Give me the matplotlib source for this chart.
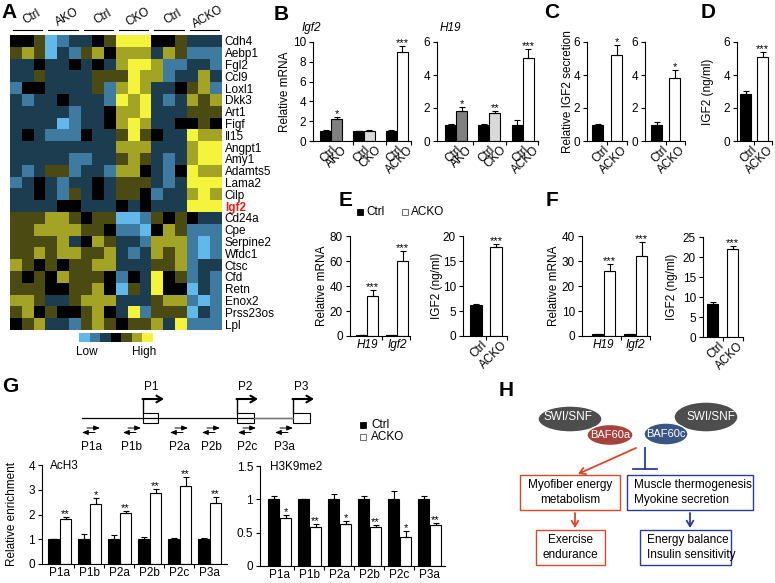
import numpy as np
import matplotlib
matplotlib.use("Agg")
from matplotlib import pyplot as plt
from matplotlib.colors import LinearSegmentedColormap
from matplotlib.patches import Rectangle, Ellipse

plt.rcParams['font.family'] = ['Liberation Sans', 'DejaVu Sans']
plt.rcParams['font.size'] = 8
plt.rcParams['axes.linewidth'] = 0.8

W, H = 775, 583

# ---------------- data ----------------
# A: heatmap (z-score levels, rows = genes, cols = 6 groups x 3 mice)
genes = ['Cdh4', 'Aebp1', 'Fgl2', 'Ccl9', 'Loxl1', 'Dkk3', 'Art1', 'Figf', 'Il15',
         'Angpt1', 'Amy1', 'Adamts5', 'Lama2', 'Cilp', 'Igf2', 'Cd24a', 'Cpe',
         'Serpine2', 'Wfdc1', 'Ctsc', 'Cfd', 'Retn', 'Enox2', 'Prss23os', 'Lpl']
heat_groups = ['Ctrl', 'AKO', 'Ctrl', 'CKO', 'Ctrl', 'ACKO']
heat = np.array([
    [0, 0, 1, -3, -2, -1, -1, 0, 1, 3, 3, 3, 0, 0, 1, -1, -1, -1],
    [1, 2, 1, -3, -1, -2, 1, 2, 0, 2, 2, 2, -1, 2, 1, -2, -2, -2],
    [-1, -1, 0, -1, -1, 0, -1, 0, -1, 2, 3, 3, 2, -2, -2, -1, -1, -2],
    [-1, -1, 1, -1, -1, -1, -1, 1, 1, 1, 3, 2, 2, -2, -1, -1, 2, -1],
    [-2, 0, 0, -1, -1, -1, -1, 1, -2, 2, 3, 2, -1, -1, 0, 1, 2, -2],
    [-1, -2, -1, -1, 0, -1, -1, -1, -2, 3, 2, 3, -1, -2, -1, 2, 1, 2],
    [-1, -1, -1, -1, -1, -2, -1, -1, 0, 2, 2, 3, -1, -1, -1, 1, 1, 1],
    [-1, -1, -1, -1, -3, -2, -1, -1, 0, 2, 3, 2, -1, -1, 0, 0, 1, 0],
    [-1, 0, -1, -2, -2, -2, 0, -1, -1, 1, 3, 1, 0, -1, -1, 3, 2, 2],
    [-1, -1, -1, -1, -1, -1, -1, -1, -1, 2, 2, 2, -1, -1, -1, 2, 3, 3],
    [-1, -1, -1, -1, -1, -2, -2, -1, -1, 1, 2, 1, -1, -2, -1, 2, 3, 3],
    [-1, -2, -1, 1, 1, -2, -1, -1, -2, 2, 2, 0, -1, -2, 0, 3, 2, 2],
    [-2, -1, 0, -1, -2, -1, -1, 0, -1, 1, 1, 1, -1, -2, -1, 3, 3, 3],
    [-1, -1, 0, -1, -2, 1, -1, 0, -1, 1, 1, 0, -2, -1, -1, 2, 3, 2],
    [-1, -1, -1, -1, 0, 0, -1, -1, -1, 0, -1, 0, -1, -1, -1, 3, 3, 3],
    [1, 1, 1, 2, 2, 1, 0, 1, 1, -3, -3, -2, 1, 0, 1, 0, -1, -1],
    [1, 1, 2, 2, 2, 2, 1, 1, 0, -2, -2, -3, 0, 2, 1, -2, -2, -2],
    [1, 1, 1, 1, 2, -1, 0, 2, 1, -1, -1, -2, 2, 2, 2, -2, -3, -2],
    [1, 1, 2, 1, 2, 2, 1, 1, 2, -1, -2, -1, 2, 1, 2, -2, -3, -2],
    [2, 1, 0, 1, 0, 1, 1, 2, 2, -1, -1, -1, 1, 1, 2, -2, -1, -1],
    [1, 0, 1, 0, 2, 1, 1, 1, 0, -2, 0, -1, 3, 0, 1, -2, -1, -2],
    [1, 1, 1, 0, 0, 1, 1, 2, 0, -3, 1, -1, 3, 0, 0, -3, -1, -2],
    [2, 2, 1, -1, -1, 1, 2, 2, 2, -1, -1, -1, 1, 2, 2, -2, -3, -2],
    [1, 2, 0, 1, 0, 0, 1, 2, 0, -1, 3, -2, 1, 1, 1, -3, -1, -2],
    [0, 1, 2, -1, -1, -2, 1, 2, 1, 0, 1, 1, 2, -1, 3, -2, -2, -2],
])
heat_colors = ['#62b8e8', '#3f7aa0', '#1d3c50', '#000000', '#4a4a12', '#a3a326', '#f4f43c']

# B: relative mRNA
b_labels = ['Ctrl', 'AKO', 'Ctrl', 'CKO', 'Ctrl', 'ACKO']
b_ko_colors = ['#808080', '#d9d9d9', 'white']
igf2_ctrl = [1.0, 1.0, 1.0]
igf2_ctrl_err = [0.1, 0.05, 0.08]
igf2_ko = [2.2, 1.05, 9.0]
igf2_ko_err = [0.2, 0.06, 0.6]
igf2_stars = ['*', '', '***']
h19_ctrl = [1.0, 1.0, 1.0]
h19_ctrl_err = [0.06, 0.05, 0.25]
h19_ko = [1.8, 1.7, 5.05]
h19_ko_err = [0.25, 0.12, 0.5]
h19_stars = ['*', '**', '***']

# C: relative IGF2 secretion
c1_ctrl, c1_ctrl_err, c1_ko, c1_ko_err = [1.0], [0.05], [5.2], [0.6]
c2_ctrl, c2_ctrl_err, c2_ko, c2_ko_err = [1.0], [0.15], [3.8], [0.5]

# D: serum IGF2
d_ctrl, d_ctrl_err, d_ko, d_ko_err = [2.85], [0.2], [5.1], [0.3]

# E / F
ef_genes = ['H19', 'Igf2']
e_ctrl, e_ctrl_err, e_ko, e_ko_err = [0.8, 0.8], [0.1, 0.1], [32, 60], [4.5, 8]
e_igf_ctrl, e_igf_ctrl_err, e_igf_ko, e_igf_ko_err = [6.3], [0.2], [17.9], [0.5]
f_ctrl, f_ctrl_err, f_ko, f_ko_err = [0.8, 0.8], [0.1, 0.1], [26, 32], [2.8, 5.6]
f_igf_ctrl, f_igf_ctrl_err, f_igf_ko, f_igf_ko_err = [8.3], [0.5], [22], [0.7]

# G: ChIP
primers = ['P1a', 'P1b', 'P2a', 'P2b', 'P2c', 'P3a']
ach3_ctrl = [1.0, 1.0, 1.0, 1.0, 1.0, 1.0]
ach3_ctrl_err = [0.02, 0.2, 0.18, 0.1, 0.06, 0.06]
ach3_ko = [1.82, 2.43, 2.08, 2.85, 3.17, 2.45]
ach3_ko_err = [0.08, 0.25, 0.07, 0.18, 0.35, 0.25]
ach3_stars = ['**', '*', '**', '**', '**', '**']
k9_ctrl = [1.0, 1.0, 1.0, 1.0, 1.0, 1.0]
k9_ctrl_err = [0.05, 0.01, 0.08, 0.05, 0.12, 0.05]
k9_ko = [0.72, 0.58, 0.63, 0.59, 0.44, 0.62]
k9_ko_err = [0.04, 0.05, 0.05, 0.03, 0.08, 0.02]
k9_stars = ['*', '**', '*', '**', '*', '**']

fig = plt.figure(figsize=(7.75, 5.83), dpi=100)


def px_axes(l, t, r, b):
    return fig.add_axes([l / W, 1 - b / H, (r - l) / W, (b - t) / H])


ek = dict(elinewidth=0.8, capthick=0.8, ecolor='black')


def bar_axes(box, ymax, yticks, ctrl, ctrl_err, ko, ko_err, stars, left,
             spacing=30, gap=0, bw=11, ko_color='white', ylabel=None, ylabel_x=None,
             yticklabels=None):
    l, t, r, b = box
    ax = px_axes(l, t, r, b)
    n = len(ctrl)
    xc = left + np.arange(n) * spacing + bw / 2
    xk = xc + bw + gap
    ax.bar(xc, ctrl, bw, color='black', edgecolor='black', linewidth=0.8,
           yerr=[np.zeros(n), ctrl_err], capsize=2, error_kw=ek)
    ax.bar(xk, ko, bw, color=ko_color, edgecolor='black', linewidth=0.8,
           yerr=[np.zeros(n), ko_err], capsize=2, error_kw=ek)
    for x, v, e, s in zip(xk, ko, ko_err, stars):
        if s:
            ax.annotate(s, (x, v + e), xytext=(0, -1.5), textcoords='offset points',
                        ha='center', va='bottom', fontsize=8, annotation_clip=False)
    ax.set_xlim(0, r - l)
    ax.set_ylim(0, ymax)
    ax.set_yticks(yticks)
    if yticklabels is not None:
        ax.set_yticklabels(yticklabels)
    ax.spines[['top', 'right']].set_visible(False)
    ax.tick_params(axis='y', length=3, width=0.8, pad=2, labelsize=8.5)
    ax.tick_params(axis='x', which='major', length=0, pad=2, labelsize=8.5)
    ax.tick_params(axis='x', which='minor', length=3, width=0.8)
    if ylabel:
        ax.set_ylabel(ylabel, fontsize=8.5)
        ax.yaxis.set_label_coords((ylabel_x - l) / (r - l), 0.5)
    return ax, xc, xk


def rotated_labels(ax, pos, labels):
    ax.set_xticks(pos)
    ax.set_xticklabels(labels, rotation=45, ha='right', va='top', rotation_mode='anchor')


# ---------------- A ----------------
axA = px_axes(10, 35, 222, 330)
cmap = LinearSegmentedColormap.from_list('lh', heat_colors)
axA.imshow(heat, cmap=cmap, vmin=-3, vmax=3, aspect='auto', interpolation='nearest')
axA.set_xticks([])
axA.yaxis.tick_right()
axA.set_yticks(range(len(genes)))
axA.set_yticklabels(genes, fontsize=8.5)
axA.tick_params(axis='y', length=0, pad=2)
for lab in axA.get_yticklabels():
    if lab.get_text() == 'Igf2':
        lab.set_color('#e0201b')
        lab.set_fontweight('bold')
for s in axA.spines.values():
    s.set_visible(False)

axCB = px_axes(79, 333, 153, 342)
axCB.imshow(np.arange(-3, 4)[None, :], cmap=cmap, vmin=-3, vmax=3, aspect='auto')
axCB.axis('off')

# ---------------- B ----------------
axB1, xc, xk = bar_axes((313, 42, 411, 141), 10, [0, 2, 4, 6, 8, 10], igf2_ctrl, igf2_ctrl_err,
                        igf2_ko, igf2_ko_err, igf2_stars, left=7, spacing=33,
                        ko_color=b_ko_colors, ylabel='Relative mRNA', ylabel_x=291)
rotated_labels(axB1, np.ravel(np.column_stack([xc, xk])) + 5, b_labels)
axB1.set_xticks([40, 73, 98], minor=True)

axB2, xc, xk = bar_axes((437, 42, 538, 141), 6, [0, 2, 4, 6], h19_ctrl, h19_ctrl_err,
                        h19_ko, h19_ko_err, h19_stars, left=8, spacing=33.5,
                        ko_color=b_ko_colors)
rotated_labels(axB2, np.ravel(np.column_stack([xc, xk])) + 5, b_labels)
axB2.set_xticks([36, 69.5, 101], minor=True)

# ---------------- C / D ----------------
axC1, xc, xk = bar_axes((587, 42, 627, 141), 6, [0, 2, 4, 6], c1_ctrl, c1_ctrl_err,
                        c1_ko, c1_ko_err, ['*'], left=5, gap=8,
                        ylabel='Relative IGF2 secretion', ylabel_x=574)
rotated_labels(axC1, [xc[0] + 5, xk[0] + 5], ['Ctrl', 'ACKO'])
axC1.set_xticks([20, 40], minor=True)

axC2, xc, xk = bar_axes((645, 42, 685, 141), 6, [0, 2, 4, 6], c2_ctrl, c2_ctrl_err,
                        c2_ko, c2_ko_err, ['*'], left=6, gap=7)
rotated_labels(axC2, [xc[0] + 5, xk[0] + 5], ['Ctrl', 'ACKO'])
axC2.set_xticks([20.5, 40], minor=True)

axD, xc, xk = bar_axes((737, 42, 772, 141), 6, [0, 2, 4, 6], d_ctrl, d_ctrl_err,
                       d_ko, d_ko_err, ['***'], left=3, gap=6,
                       ylabel='IGF2 (ng/ml)', ylabel_x=714)
rotated_labels(axD, [xc[0] + 5, xk[0] + 5], ['Ctrl', 'ACKO'])
axD.set_xticks([17, 35], minor=True)

# ---------------- E ----------------
axE1, xc, xk = bar_axes((350, 236, 410, 336), 80, [0, 20, 40, 60, 80], e_ctrl, e_ctrl_err,
                        e_ko, e_ko_err, ['***', '***'], left=6, spacing=30,
                        ylabel='Relative mRNA', ylabel_x=328)
axE1.set_xticks((xc + xk) / 2)
axE1.set_xticklabels(ef_genes, style='italic')
axE1.set_xticks([32, 60], minor=True)

axE2, xc, xk = bar_axes((463, 236, 507, 336), 20, [0, 5, 10, 15, 20], e_igf_ctrl,
                        e_igf_ctrl_err, e_igf_ko, e_igf_ko_err, ['***'], left=7, gap=8,
                        bw=12, ylabel='IGF2 (ng/ml)', ylabel_x=443)
rotated_labels(axE2, [xc[0] + 5, xk[0] + 5], ['Ctrl', 'ACKO'])
axE2.set_xticks([23, 44], minor=True)

# ---------------- F ----------------
axF1, xc, xk = bar_axes((582, 236, 650, 336), 40, [0, 10, 20, 30, 40], f_ctrl, f_ctrl_err,
                        f_ko, f_ko_err, ['***', '***'], left=10, spacing=32, gap=1,
                        ylabel='Relative mRNA', ylabel_x=560)
axF1.set_xticks((xc + xk) / 2)
axF1.set_xticklabels(ef_genes, style='italic')
axF1.set_xticks([39, 68], minor=True)

axF2, xc, xk = bar_axes((703, 237, 743, 337), 25, [0, 5, 10, 15, 20, 25], f_igf_ctrl,
                        f_igf_ctrl_err, f_igf_ko, f_igf_ko_err, ['***'], left=4, gap=9,
                        ylabel='IGF2 (ng/ml)', ylabel_x=678)
rotated_labels(axF2, [xc[0] + 5, xk[0] + 5], ['Ctrl', 'ACKO'])
axF2.set_xticks([19.5, 40], minor=True)

# ---------------- G ----------------
axG1, xc, xk = bar_axes((42, 465, 227, 564), 4, [0, 1, 2, 3, 4], ach3_ctrl, ach3_ctrl_err,
                        ach3_ko, ach3_ko_err, ach3_stars, left=6, spacing=30, gap=1,
                        ylabel='Relative enrichment', ylabel_x=18)
axG1.set_xticks((xc + xk) / 2)
axG1.set_xticklabels(primers)
axG1.set_xticks(xc[1:] - 9.5, minor=True)
axG1.text(8, 3.95, 'AcH3', fontsize=8.5, va='center')

axG2, xc, xk = bar_axes((260, 466, 445, 566), 1.5, [0, 0.5, 1, 1.5], k9_ctrl, k9_ctrl_err,
                        k9_ko, k9_ko_err, k9_stars, left=8, spacing=30, gap=1,
                        yticklabels=['0', '0.5', '1', '1.5'])
axG2.set_xticks((xc + xk) / 2)
axG2.set_xticklabels(primers)
axG2.set_xticks(xc[1:] - 9.5, minor=True)
axG2.text(10, 1.48, 'H3K9me2', fontsize=8.5, va='center')

# ---------------- overlay: letters, titles, diagrams ----------------
ov = fig.add_axes([0, 0, 1, 1])
ov.set_xlim(0, W)
ov.set_ylim(H, 0)
ov.axis('off')

for lt, x, y in [('A', 9, 13), ('B', 281, 14), ('C', 552, 13), ('D', 708, 13),
                 ('E', 346, 201), ('F', 552, 201), ('G', 10, 387), ('H', 506, 390)]:
    ov.text(x, y, lt, fontsize=15, fontweight='bold', ha='center', va='center')

# heatmap group headers
col_w = (222 - 10) / 18
for g, name in enumerate(heat_groups):
    x0 = 10 + g * 3 * col_w
    ov.plot([x0 + 3, x0 + 3 * col_w - 3], [30, 30], color='black', lw=0.8)
    ov.text(x0 + 1.5 * col_w + 4, 17, name, rotation=30, ha='center', va='center', fontsize=8.5)
ov.text(87, 352, 'Low', ha='center', va='center', fontsize=8.5)
ov.text(144, 352, 'High', ha='center', va='center', fontsize=8.5)

# B titles
ov.text(311, 28, 'Igf2', style='italic', ha='center', va='center', fontsize=8.5)
ov.text(450, 28, 'H19', style='italic', ha='center', va='center', fontsize=8.5)

# E legend
ov.add_patch(Rectangle((357, 209), 6, 6, facecolor='black', edgecolor='black', lw=0.6))
ov.text(366, 212, 'Ctrl', va='center', fontsize=8.5)
ov.add_patch(Rectangle((402, 209), 6, 6, facecolor='white', edgecolor='#555555', lw=0.6))
ov.text(411, 212, 'ACKO', va='center', fontsize=8.5)

# G gene diagram
ov.plot([82, 293], [418, 418], color='black', lw=0.9)
ov.plot([254, 293], [418, 418], color='#777777', lw=0.9)
for x, w, name in [(143, 15, 'P1'), (237, 17, 'P2'), (293, 17, 'P3')]:
    ov.add_patch(Rectangle((x, 413), w, 10, facecolor='white', edgecolor='black', lw=0.8))
    ov.plot([x, x], [413, 399], color='black', lw=1.0)
    ov.annotate('', xy=(x + 21, 399), xytext=(x - 0.5, 399),
                arrowprops=dict(arrowstyle='->, head_length=0.5, head_width=0.3',
                                lw=1.5, color='black', shrinkA=0, shrinkB=0))
    ov.text(x + 8, 387, name, ha='center', va='center', fontsize=8.5)
for x, name in zip([82, 123, 170, 202, 238, 275], primers):
    ov.annotate('', xy=(x + 18, 428), xytext=(x + 5, 428),
                arrowprops=dict(arrowstyle='-|>, head_length=0.45, head_width=0.18',
                                lw=0.7, color='black', shrinkA=0, shrinkB=0))
    ov.annotate('', xy=(x, 432.5), xytext=(x + 13, 432.5),
                arrowprops=dict(arrowstyle='-|>, head_length=0.45, head_width=0.18',
                                lw=0.7, color='black', shrinkA=0, shrinkB=0))
    ov.text(x + 9, 447, name, ha='center', va='center', fontsize=8.5)

ov.add_patch(Rectangle((360, 422), 6, 6, facecolor='black', edgecolor='black', lw=0.6))
ov.text(371, 425, 'Ctrl', va='center', fontsize=8.5)
ov.add_patch(Rectangle((360, 434), 6, 6, facecolor='white', edgecolor='#555555', lw=0.6))
ov.text(371, 437.5, 'ACKO', va='center', fontsize=8.5)

# H model
red, blue = '#d9472b', '#2d3b97'
ov.add_patch(Ellipse((570, 419), 64, 26, facecolor='#4d4d4d', edgecolor='white', lw=1))
ov.text(568, 417, 'SWI/SNF', color='white', ha='center', va='center', fontsize=8.5)
ov.add_patch(Ellipse((610, 435), 46, 21, facecolor='#a4433d', edgecolor='white', lw=1))
ov.text(610, 435, 'BAF60a', color='white', ha='center', va='center', fontsize=8)
ov.add_patch(Ellipse((706, 417), 64, 30, facecolor='#4d4d4d', edgecolor='white', lw=1))
ov.text(711, 417, 'SWI/SNF', color='white', ha='center', va='center', fontsize=8.5)
ov.add_patch(Ellipse((666, 434), 44, 22, facecolor='#3b5683', edgecolor='white', lw=1))
ov.text(666, 434, 'BAF60c', color='white', ha='center', va='center', fontsize=8)

ov.annotate('', xy=(578, 474), xytext=(636, 448),
            arrowprops=dict(arrowstyle='->, head_length=0.5, head_width=0.3',
                            lw=1.3, color=red, shrinkA=0, shrinkB=0))
ov.plot([645, 645], [448, 469], color=blue, lw=1.3)
ov.plot([633, 657], [469, 469], color=blue, lw=1.3)

ov.add_patch(Rectangle((520, 475), 100, 35, facecolor='white', edgecolor=red, lw=1))
ov.text(570, 492.5, 'Myofiber energy\nmetabolism', ha='center', va='center',
        fontsize=8.5, linespacing=1.3)
ov.add_patch(Rectangle((627, 475), 126, 35, facecolor='white', edgecolor=blue, lw=1))
ov.text(634, 492.5, 'Muscle thermogenesis\nMyokine secretion', ha='left', va='center',
        fontsize=8.5, linespacing=1.3)
ov.annotate('', xy=(575, 528), xytext=(575, 513),
            arrowprops=dict(arrowstyle='->, head_length=0.5, head_width=0.3',
                            lw=1.3, color=red, shrinkA=0, shrinkB=0))
ov.annotate('', xy=(690, 528), xytext=(690, 513),
            arrowprops=dict(arrowstyle='->, head_length=0.5, head_width=0.3',
                            lw=1.3, color=blue, shrinkA=0, shrinkB=0))
ov.add_patch(Rectangle((536, 530), 69, 35, facecolor='white', edgecolor=red, lw=1))
ov.text(570.5, 547.5, 'Exercise\nendurance', ha='center', va='center',
        fontsize=8.5, linespacing=1.3)
ov.add_patch(Rectangle((640, 530), 91, 35, facecolor='white', edgecolor=blue, lw=1))
ov.text(647, 547.5, 'Energy balance\nInsulin sensitivity', ha='left', va='center',
        fontsize=8.5, linespacing=1.3)

fig.savefig('out.png', dpi=100)
